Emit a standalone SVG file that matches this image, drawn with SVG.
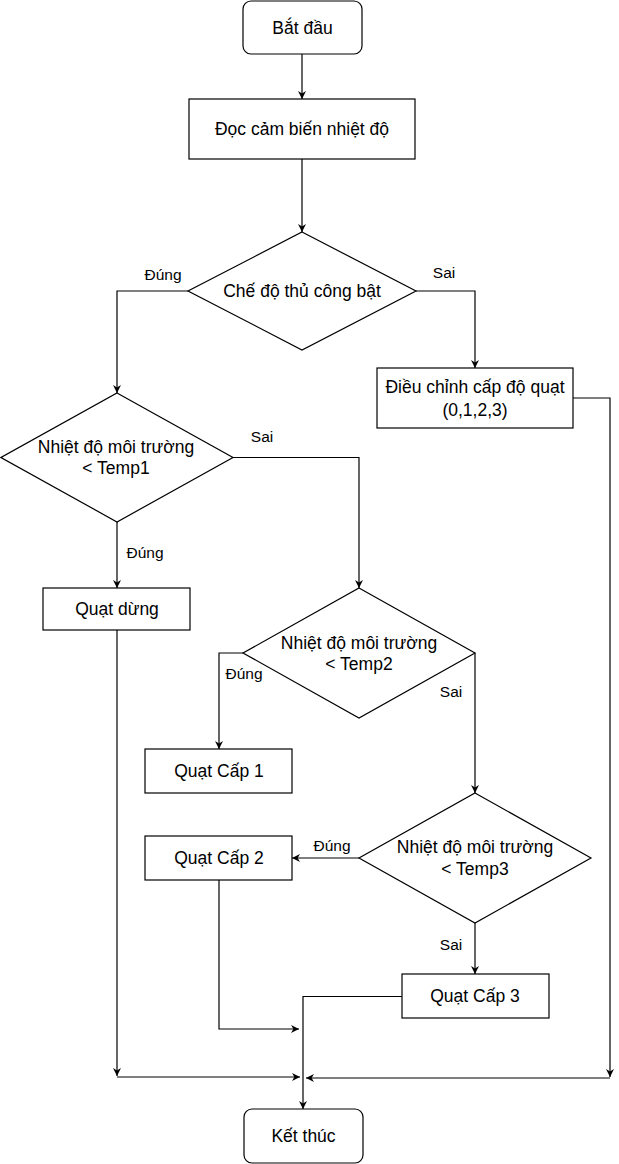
<svg xmlns="http://www.w3.org/2000/svg" width="619" height="1164" viewBox="0 0 619 1164">
<style>
.n{fill:#fff;stroke:#000;stroke-width:1.2}
.t{font-family:"Liberation Sans",Arial,sans-serif;font-size:17.5px;fill:#000;text-anchor:middle}
.l{font-family:"Liberation Sans",Arial,sans-serif;font-size:15.5px;fill:#000;text-anchor:middle}
.e{fill:none;stroke:#000;stroke-width:1.2;marker-end:url(#a)}
</style>
<defs>
<marker id="a" viewBox="0 0 10 10" refX="10" refY="5" markerWidth="8" markerHeight="8" markerUnits="userSpaceOnUse" orient="auto">
<path d="M0,0 L10,5 L0,10 L3,5 z" fill="#000"/>
</marker>
</defs>
<rect width="619" height="1164" fill="#fff"/>
<g id="connectors">
<path class="e" d="M302,54 V99"/>
<path class="e" d="M302,159 V232"/>
<path class="e" d="M188,291 H117 V393"/>
<path class="e" d="M416,291 H475 V368"/>
<path class="e" d="M233,457.5 H359 V588"/>
<path class="e" d="M117,522 V588"/>
<path class="e" d="M243,653 H219 V749"/>
<path class="e" d="M475,653 V793"/>
<path class="e" d="M359,858 H292"/>
<path class="e" d="M475,923 V974"/>
<path class="e" d="M402,996.5 H303 V1109"/>
<path class="e" d="M219,880 V1029 H299"/>
<path class="e" d="M117,630 V1076"/>
<path class="e" d="M117,1077 H300"/>
<path class="e" d="M573,398 H610 V1077"/>
<path class="e" d="M610,1078 H306"/>
<text class="l" x="163" y="280">Đúng</text>
<text class="l" x="444" y="278">Sai</text>
<text class="l" x="262" y="442">Sai</text>
<text class="l" x="145" y="558">Đúng</text>
<text class="l" x="244" y="679">Đúng</text>
<text class="l" x="451" y="697">Sai</text>
<text class="l" x="332" y="851">Đúng</text>
<text class="l" x="451" y="950">Sai</text>
</g>
<g id="start"><rect class="n" x="243" y="1" width="119" height="53" rx="8"/><text class="t" x="302.5" y="33.5">Bắt đầu</text></g>
<g id="read"><rect class="n" x="189" y="99" width="226" height="60"/><text class="t" x="302" y="135">Đọc cảm biến nhiệt độ</text></g>
<g id="d1"><polygon class="n" points="302,232 416,291 302,350 188,291"/><text class="t" x="302" y="297">Chế độ thủ công bật</text></g>
<g id="adjust"><rect class="n" x="377" y="368" width="196" height="60"/><text class="t" x="475" y="393">Điều chỉnh cấp độ quạt</text><text class="t" x="475" y="416">(0,1,2,3)</text></g>
<g id="d2"><polygon class="n" points="117,393 233,457.5 117,522 1,457.5"/><text class="t" x="116" y="453">Nhiệt độ môi trường</text><text class="t" x="116" y="474">&lt; Temp1</text></g>
<g id="stop"><rect class="n" x="43" y="588" width="147" height="42"/><text class="t" x="117" y="615">Quạt dừng</text></g>
<g id="d3"><polygon class="n" points="359,588 475,653 359,718 243,653"/><text class="t" x="359" y="648.5">Nhiệt độ môi trường</text><text class="t" x="359" y="670">&lt; Temp2</text></g>
<g id="lv1"><rect class="n" x="145" y="749" width="147" height="44"/><text class="t" x="219" y="777">Quạt Cấp 1</text></g>
<g id="d4"><polygon class="n" points="475,793 591,858 475,923 359,858"/><text class="t" x="475" y="853">Nhiệt độ môi trường</text><text class="t" x="475" y="874.5">&lt; Temp3</text></g>
<g id="lv2"><rect class="n" x="145" y="836" width="147" height="44"/><text class="t" x="219" y="864">Quạt Cấp 2</text></g>
<g id="lv3"><rect class="n" x="402" y="974" width="147" height="44"/><text class="t" x="475" y="1002">Quạt Cấp 3</text></g>
<g id="end"><rect class="n" x="244" y="1109" width="119" height="54" rx="8"/><text class="t" x="303.5" y="1142">Kết thúc</text></g>
</svg>
